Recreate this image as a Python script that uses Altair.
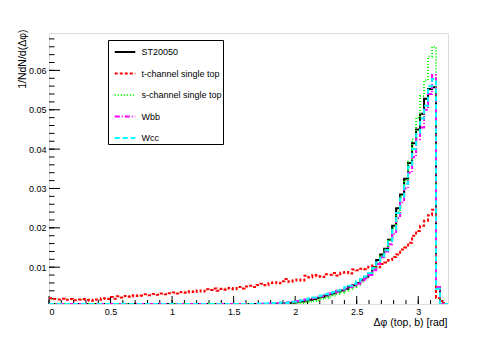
import altair as alt
import pandas as pd

# ---------------- data ----------------
XMAX = 3.2416
NBINS = 100
SERIES = ["ST20050", "t-channel single top", "s-channel single top", "Wbb", "Wcc"]
COLORS = ["#000000", "#ff0000", "#00ff00", "#ff00ff", "#00ffff"]
DASHES = [[1, 0], [3, 2], [1, 2], [5, 2, 1, 2], [5, 3]]

st20050 = [0.0]*30 + [
    0.0001, 0.0001, 0.0001, 0.0001, 0.0001, 0.0001, 0.0002, 0.0001, 0.0002, 0.0002,
    0.0002, 0.0002, 0.0002, 0.0002, 0.0002, 0.0002, 0.0002, 0.0003, 0.0003, 0.0003,
    0.0004, 0.0004, 0.0005, 0.0005, 0.0006, 0.0006, 0.0007, 0.0007, 0.0008, 0.0008,
    0.0009, 0.0010, 0.0012, 0.0013, 0.0015, 0.0017, 0.0019, 0.0022, 0.0025, 0.0028,
    0.0031, 0.0034, 0.0038, 0.0041, 0.0045, 0.0050, 0.0054, 0.0060, 0.0068, 0.0075,
    0.0082, 0.0100, 0.0118, 0.0132, 0.0147, 0.0170, 0.0205, 0.0250, 0.0285, 0.0325,
    0.0365, 0.0415, 0.0450, 0.0490, 0.0528, 0.0553, 0.0557, 0.0048, 0.0, 0.0]

tchannel = [
    0.0021, 0.0019, 0.0018, 0.0020, 0.0017, 0.0019, 0.0016, 0.0018, 0.0019, 0.0017,
    0.0015, 0.0018, 0.0017, 0.0021, 0.0019, 0.0024, 0.0020, 0.0026, 0.0023, 0.0027,
    0.0025, 0.0029, 0.0027, 0.0028, 0.0031, 0.0029, 0.0032, 0.0030, 0.0033, 0.0031,
    0.0034, 0.0036, 0.0033, 0.0037, 0.0035, 0.0039, 0.0037, 0.0041, 0.0038, 0.0044,
    0.0042, 0.0046, 0.0040, 0.0045, 0.0043, 0.0047, 0.0044, 0.0050, 0.0046, 0.0051,
    0.0053, 0.0050, 0.0055, 0.0058, 0.0054, 0.0060, 0.0062, 0.0059, 0.0064, 0.0070,
    0.0063, 0.0066, 0.0069, 0.0066, 0.0078, 0.0074, 0.0080, 0.0077, 0.0075, 0.0082,
    0.0081, 0.0085, 0.0079, 0.0086, 0.0088, 0.0084, 0.0094, 0.0092, 0.0096, 0.0095,
    0.0101, 0.0104, 0.0100, 0.0108, 0.0112, 0.0118, 0.0126, 0.0132, 0.0145, 0.0150,
    0.0162, 0.0180, 0.0192, 0.0205, 0.0218, 0.0232, 0.0246, 0.0022, 0.0014, 0.0]

schannel = [0.0]*40 + [
    0.0001, 0.0001, 0.0001, 0.0001, 0.0002, 0.0001, 0.0002, 0.0002, 0.0003, 0.0002,
    0.0003, 0.0003, 0.0004, 0.0003, 0.0004, 0.0004, 0.0005, 0.0004, 0.0005, 0.0005,
    0.0006, 0.0007, 0.0008, 0.0009, 0.0011, 0.0012, 0.0014, 0.0016, 0.0019, 0.0022,
    0.0025, 0.0028, 0.0032, 0.0036, 0.0040, 0.0045, 0.0050, 0.0056, 0.0063, 0.0071,
    0.0080, 0.0095, 0.0110, 0.0128, 0.0145, 0.0170, 0.0200, 0.0240, 0.0280, 0.0320,
    0.0368, 0.0425, 0.0480, 0.0535, 0.0575, 0.0635, 0.0660, 0.0050, 0.0, 0.0]

wbb = [0.0]*35 + [
    0.0001, 0.0001, 0.0001, 0.0002, 0.0001, 0.0002, 0.0002, 0.0002, 0.0003, 0.0002,
    0.0003, 0.0002, 0.0004, 0.0003, 0.0005, 0.0004, 0.0006, 0.0005, 0.0007, 0.0006,
    0.0008, 0.0007, 0.0009, 0.0008, 0.0010, 0.0011, 0.0012, 0.0014, 0.0016, 0.0018,
    0.0020, 0.0022, 0.0025, 0.0027, 0.0030, 0.0033, 0.0036, 0.0040, 0.0043, 0.0046,
    0.0050, 0.0054, 0.0058, 0.0064, 0.0071, 0.0080, 0.0092, 0.0108, 0.0125, 0.0140,
    0.0158, 0.0185, 0.0225, 0.0265, 0.0300, 0.0340, 0.0380, 0.0425, 0.0455, 0.0500,
    0.0540, 0.0588, 0.0050, 0.0, 0.0]

wcc = [0.0]*35 + [
    0.0001, 0.0002, 0.0001, 0.0002, 0.0002, 0.0002, 0.0003, 0.0002, 0.0003, 0.0003,
    0.0003, 0.0004, 0.0003, 0.0005, 0.0004, 0.0006, 0.0005, 0.0007, 0.0006, 0.0008,
    0.0007, 0.0009, 0.0008, 0.0010, 0.0009, 0.0011, 0.0012, 0.0014, 0.0016, 0.0018,
    0.0021, 0.0023, 0.0026, 0.0028, 0.0031, 0.0034, 0.0037, 0.0041, 0.0045, 0.0049,
    0.0053, 0.0058, 0.0064, 0.0070, 0.0077, 0.0085, 0.0098, 0.0112, 0.0128, 0.0143,
    0.0165, 0.0195, 0.0238, 0.0275, 0.0312, 0.0355, 0.0400, 0.0438, 0.0478, 0.0510,
    0.0560, 0.0578, 0.0045, 0.0, 0.0]

X_MAJOR = [0, 0.5, 1, 1.5, 2, 2.5, 3]
X_MINOR = [round(0.1 * k, 1) for k in range(33)]
Y_MAJOR = [0.01, 0.02, 0.03, 0.04, 0.05, 0.06]
Y_MINOR = [round(0.002 * k, 3) for k in range(1, 35)]

# ---------------- build table ----------------
W = 399
H = 271
YMIN, YMAX = 0.00065, 0.0695
bw = XMAX / NBINS
rows = []
for name, vals in zip(SERIES, [st20050, tchannel, schannel, wbb, wcc]):
    for i, v in enumerate(vals):
        rows.append({"series": name, "x": i * bw, "y": v, "o": i})
    rows.append({"series": name, "x": NBINS * bw, "y": vals[-1], "o": NBINS})
df = pd.DataFrame(rows)

FONT = "Liberation Sans"
xscale = alt.Scale(domain=[0, XMAX], nice=False, zero=False)
yscale = alt.Scale(domain=[YMIN, YMAX], nice=False, zero=False, clamp=True)

XAXIS = alt.Axis(values=X_MAJOR, format="~g", ticks=False, domain=False, grid=False,
                 labelFont=FONT, labelFontSize=9, labelColor="black", labelPadding=3,
                 title="Δφ (top, b) [rad]", titleFont=FONT, titleFontSize=10.5,
                 titleFontWeight="normal", titleColor="black",
                 titleAlign="right", titleAnchor="end", titleX=W - 1, titleY=21,
                 titleBaseline="alphabetic")
YAXIS = alt.Axis(values=Y_MAJOR, format=".2f", ticks=False, domain=False, grid=False,
                 labelFont=FONT, labelFontSize=9, labelColor="black", labelPadding=3,
                 title="1/NdN/d(Δφ)", titleFont=FONT, titleFontSize=10.5,
                 titleFontWeight="normal", titleColor="black",
                 titleAngle=-90, titleAlign="right", titleAnchor="end",
                 titleX=-24, titleY=-4, titleBaseline="alphabetic")

lines = alt.Chart(df).mark_line(interpolate="step-after", strokeWidth=2, clip=True).encode(
    x=alt.X("x:Q", scale=xscale, axis=XAXIS),
    y=alt.Y("y:Q", scale=yscale, axis=YAXIS),
    color=alt.Color("series:N", sort=SERIES, scale=alt.Scale(domain=SERIES, range=COLORS),
                    legend=alt.Legend(title=None, orient="none", legendX=59, legendY=7,
                                      fillColor="white", strokeColor="black", padding=0.5,
                                      symbolType="stroke", symbolSize=420, symbolStrokeWidth=2,
                                      symbolOffset=5,
                                      labelFont=FONT, labelFontSize=9, labelColor="black",
                                      rowPadding=4.5, labelOffset=5)),
    strokeDash=alt.StrokeDash("series:N", sort=SERIES,
                              scale=alt.Scale(domain=SERIES, range=DASHES)),
    order=alt.Order("o:Q"),
)

xmaj = alt.Chart(pd.DataFrame({"x": X_MAJOR})).mark_rule(color="black", strokeWidth=1).encode(
    x=alt.X("x:Q", scale=xscale, axis=XAXIS), y=alt.value(H - 8), y2=alt.value(H))
xmin = alt.Chart(pd.DataFrame({"x": X_MINOR})).mark_rule(color="black", strokeWidth=1).encode(
    x=alt.X("x:Q", scale=xscale, axis=XAXIS), y=alt.value(H - 4), y2=alt.value(H))
ymaj = alt.Chart(pd.DataFrame({"y": Y_MAJOR})).mark_rule(color="black", strokeWidth=1).encode(
    y=alt.Y("y:Q", scale=yscale, axis=YAXIS), x=alt.value(0), x2=alt.value(11))
ymin = alt.Chart(pd.DataFrame({"y": Y_MINOR})).mark_rule(color="black", strokeWidth=1).encode(
    y=alt.Y("y:Q", scale=yscale, axis=YAXIS), x=alt.value(0), x2=alt.value(5.5))

chart = alt.layer(xmin, xmaj, ymin, ymaj, lines).properties(
    width=W, height=H,
    padding={"left": 41, "top": 25, "right": 20, "bottom": 26},
    autosize=alt.AutoSizeParams(type="none"),
).configure_view(stroke="black", strokeWidth=1).configure(background="white")

chart.save("out.html", embed_options={"renderer": "svg", "actions": False})
